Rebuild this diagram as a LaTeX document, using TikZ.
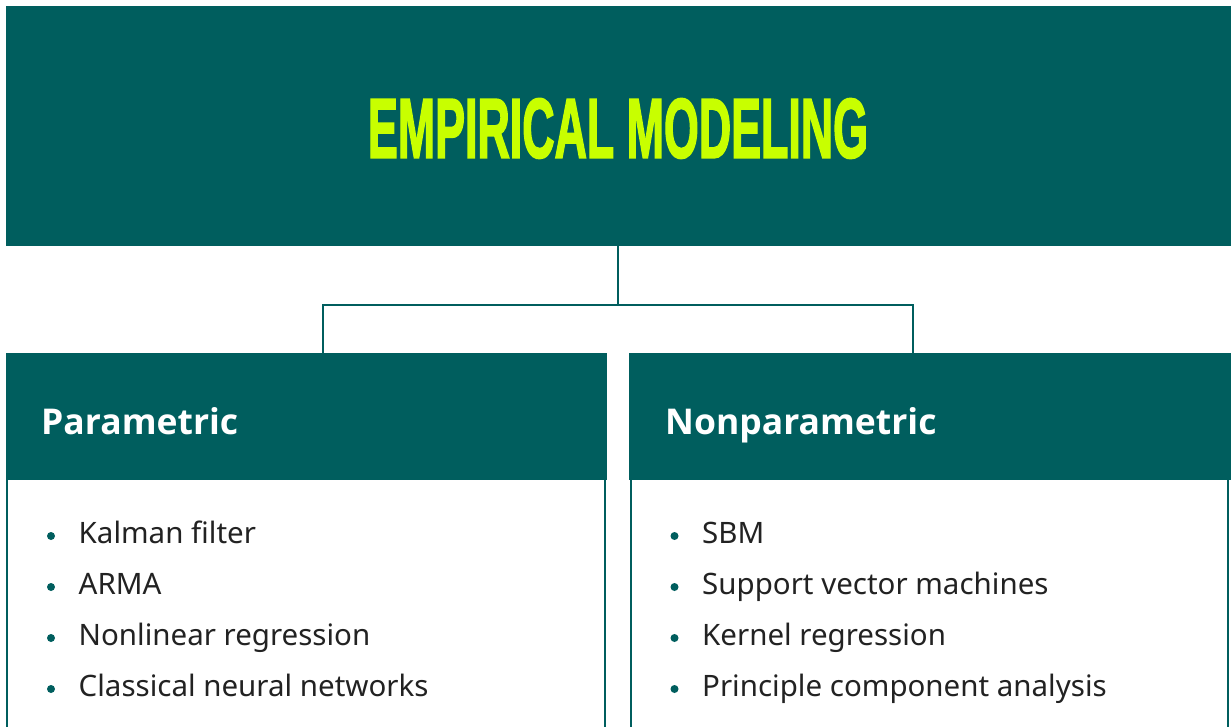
\documentclass[tikz,border=0pt]{standalone}
\usepackage{fontspec}
\setmainfont{Noto Sans}
\newfontfamily\hdrfont{Open Sans}
\newfontfamily\titlefont{Liberation Sans}[BoldFeatures={FakeBold=2.5}]
\definecolor{teal}{RGB}{0,94,94}
\definecolor{lime}{RGB}{200,255,0}
\definecolor{ink}{RGB}{34,34,34}
\begin{document}
\begin{tikzpicture}[x=1pt,y=-1pt,
  hdr/.style={fill=teal,draw=none,inner sep=0pt,outer sep=0pt},
  bodybox/.style={draw=teal,line width=2pt,fill=white},
  conn/.style={draw=teal,line width=2pt},
  hdrtext/.style={anchor=base west,inner sep=0pt,text=white,font=\hdrfont\fontsize{35.5}{40}\selectfont\bfseries},
  itemtext/.style={anchor=base west,inner sep=0pt,text=ink,font=\fontsize{29.5}{34}\selectfont},
  dot/.style={circle,fill=teal,draw=none,inner sep=0pt,minimum size=8pt}
]
\useasboundingbox (0,0) rectangle (1231,727);
\fill[white] (0,0) rectangle (1231,727);
% top box
\node[hdr,minimum width=1225pt,minimum height=240pt,anchor=north west] (top) at (6,6) {};
\node[inner sep=0pt,text=lime] (title) at (618,128.5) {\resizebox{500pt}{59pt}{\titlefont\bfseries EMPIRICAL MODELING}};
% bodies
\draw[bodybox] (7,479) -- (7,740) -- (604.5,740) -- (604.5,479);
\draw[bodybox] (630.5,479) -- (630.5,740) -- (1228,740) -- (1228,479);
% headers
\node[hdr,minimum width=601pt,minimum height=127pt,anchor=north west] (lefth) at (6,353) {};
\node[hdr,minimum width=602pt,minimum height=127pt,anchor=north west] (righth) at (629,353) {};
% connectors
\coordinate (jl) at (322.5,305);
\coordinate (jr) at (913,305);
\draw[conn] (top.south -| 618,0) -- (618,305);
\draw[conn] (lefth.north -| jl) -- (jl) -- (jr) -- (righth.north -| jr);
% header texts
\node[hdrtext] (pt) at (41,434) {Parametric};
\node[hdrtext] (npt) at (665,434) {Nonparametric};
% items left
\foreach \t/\y [count=\i] in {Kalman filter/543,ARMA/594,Nonlinear regression/645,Classical neural networks/696}{
  \node[dot] (ld\i) at (51,\y-7) {};
  \node[itemtext] (li\i) at (78.5,\y) {\t};
}
\foreach \t/\y [count=\i] in {SBM/543,Support vector machines/594,Kernel regression/645,Principle component analysis/696}{
  \node[dot] (rd\i) at (674.5,\y-7) {};
  \node[itemtext] (ri\i) at (702,\y) {\t};
}
\end{tikzpicture}
\end{document}
